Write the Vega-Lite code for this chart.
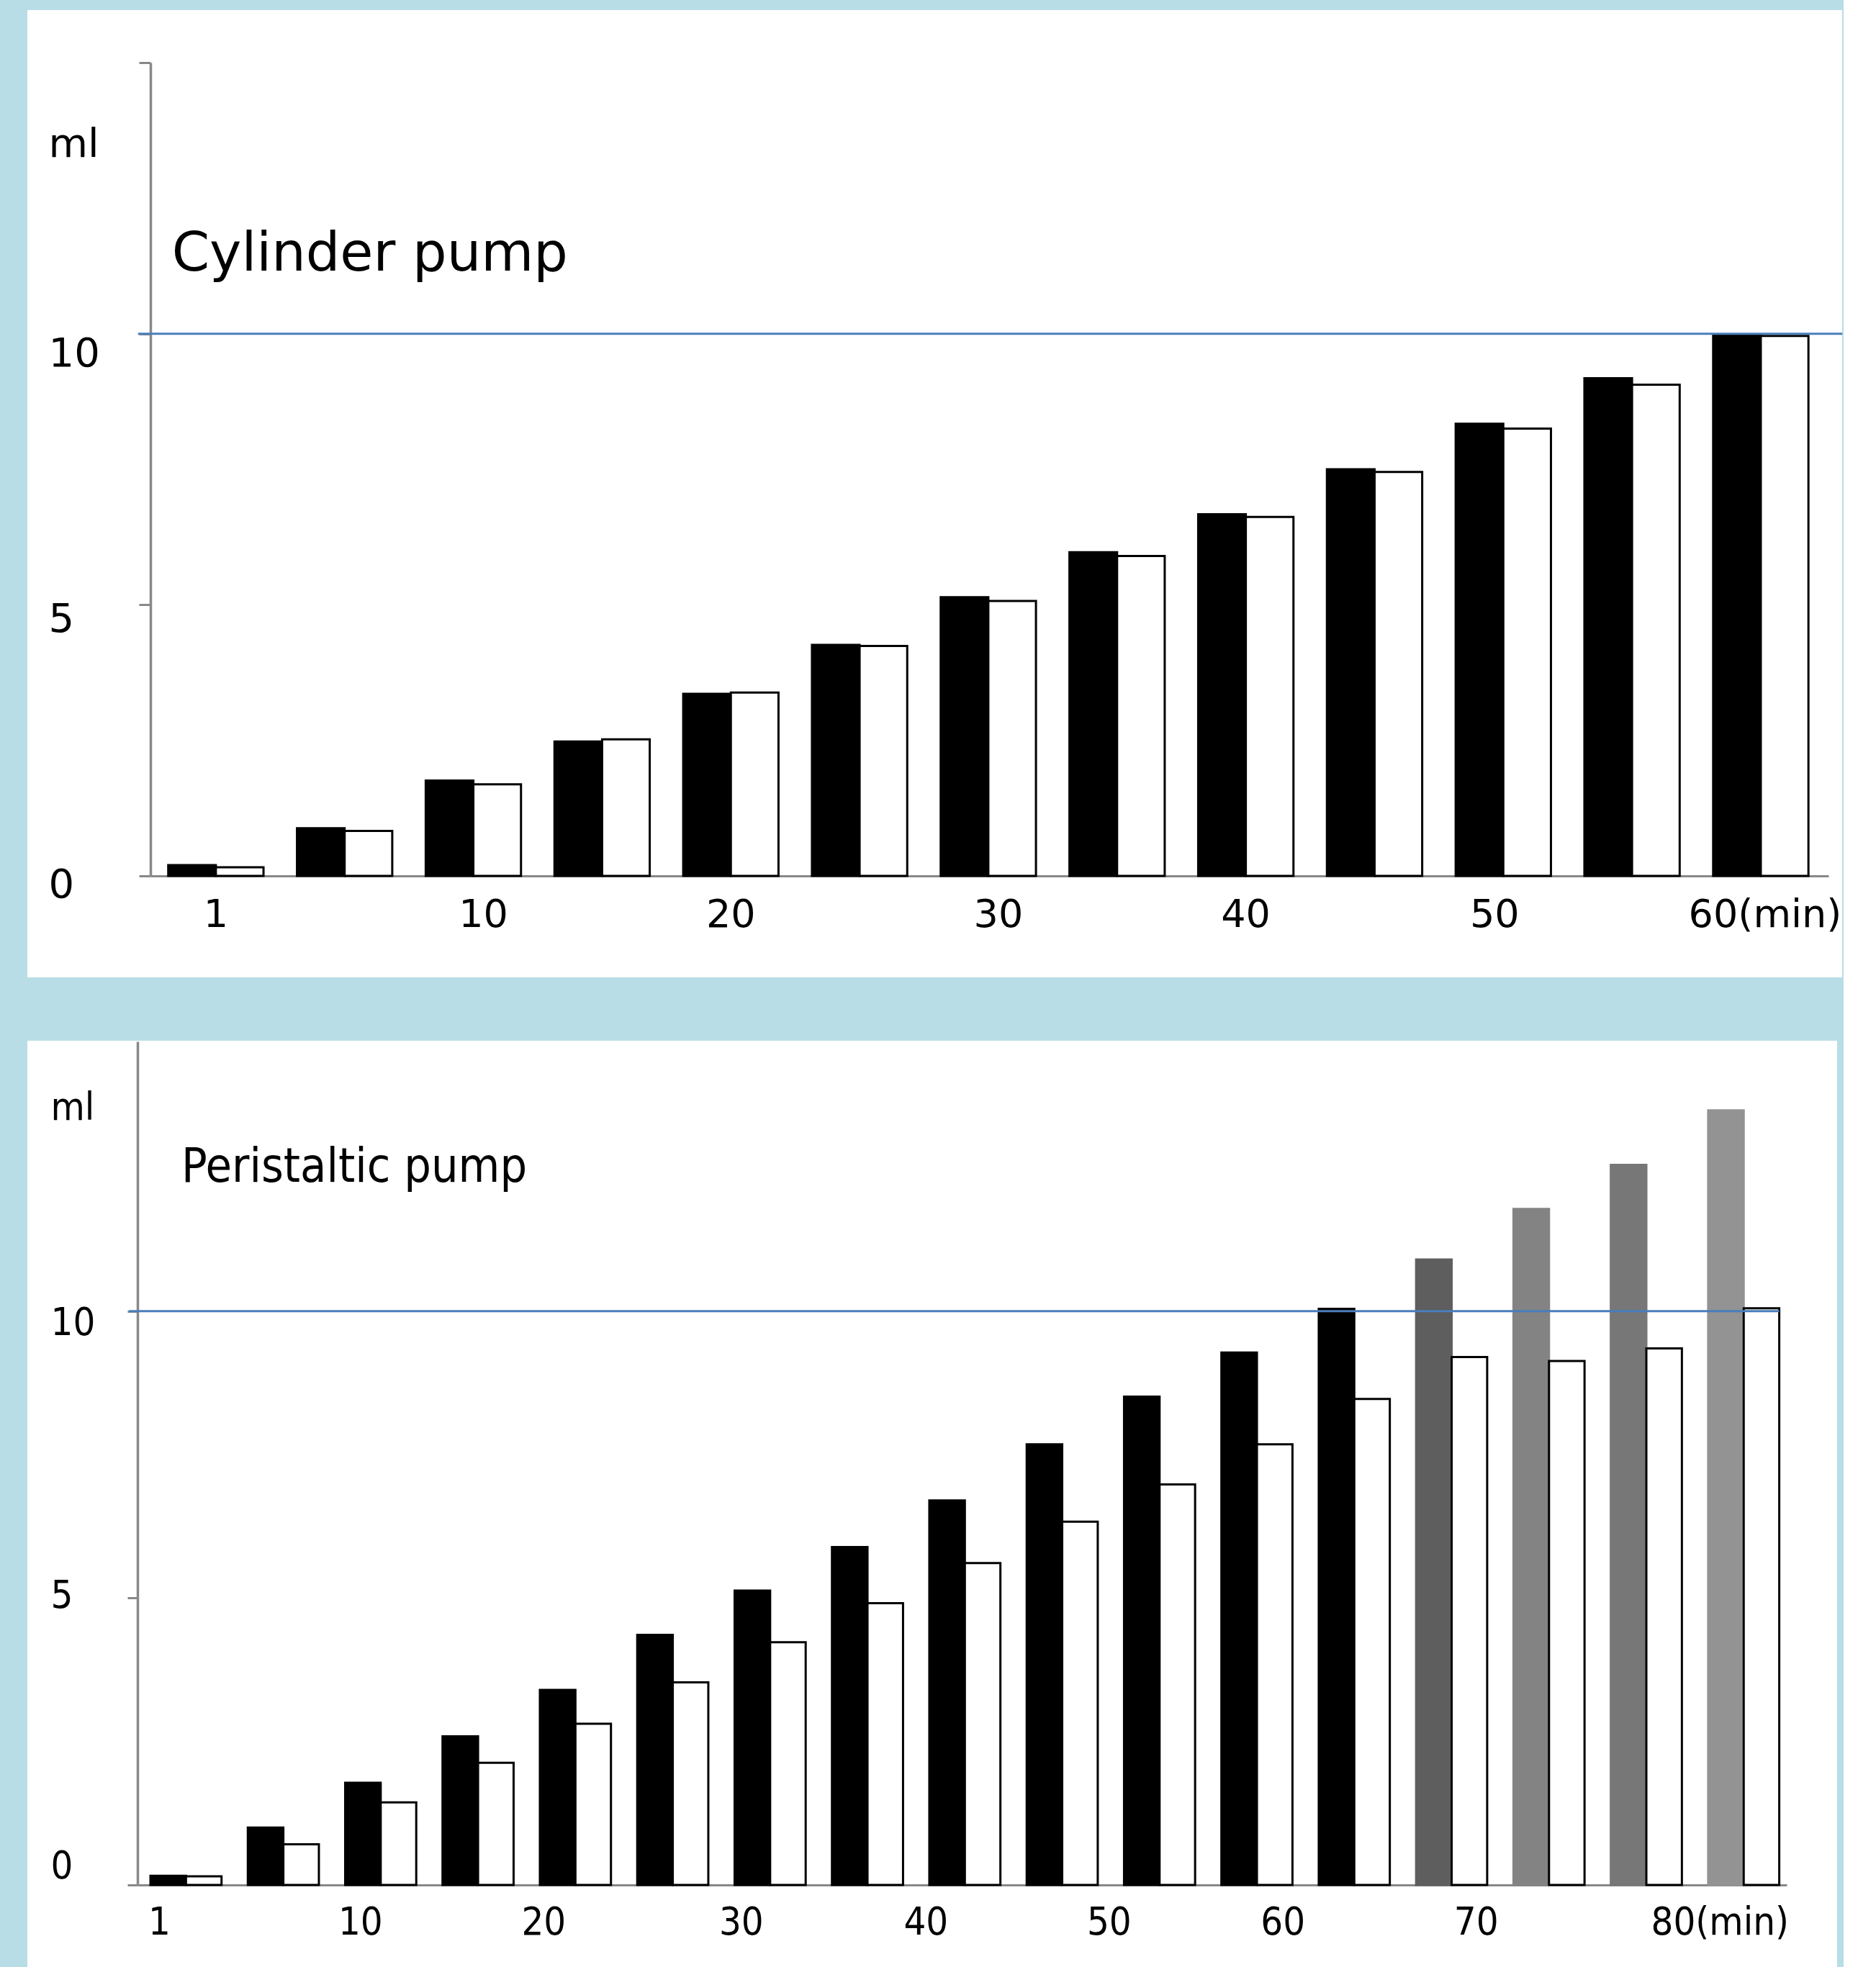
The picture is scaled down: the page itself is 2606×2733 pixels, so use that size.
{
  "$schema": "https://vega.github.io/schema/vega-lite/v6.json",
  "background": "#b8dde6",
  "padding": {"left": 38, "top": 14, "right": 0, "bottom": 0},
  "spacing": 88,
  "resolve": {"scale": {"color": "independent", "stroke": "independent", "xOffset": "independent"}},
  "config": {"view": {"fill": "#ffffff", "stroke": null}, "font": "DejaVu Sans"},
  "vconcat": [
    {
      "width": 2521,
      "height": 1344,
      "layer": [
        {
          "data": {"values": [
            {"t": 1, "s": "A", "v": 0.20}, {"t": 1, "s": "B", "v": 0.16},
            {"t": 5, "s": "A", "v": 0.88}, {"t": 5, "s": "B", "v": 0.83},
            {"t": 10, "s": "A", "v": 1.76}, {"t": 10, "s": "B", "v": 1.69},
            {"t": 15, "s": "A", "v": 2.48}, {"t": 15, "s": "B", "v": 2.52},
            {"t": 20, "s": "A", "v": 3.36}, {"t": 20, "s": "B", "v": 3.38},
            {"t": 25, "s": "A", "v": 4.26}, {"t": 25, "s": "B", "v": 4.24},
            {"t": 30, "s": "A", "v": 5.14}, {"t": 30, "s": "B", "v": 5.07},
            {"t": 35, "s": "A", "v": 5.97}, {"t": 35, "s": "B", "v": 5.90},
            {"t": 40, "s": "A", "v": 6.67}, {"t": 40, "s": "B", "v": 6.62},
            {"t": 45, "s": "A", "v": 7.50}, {"t": 45, "s": "B", "v": 7.45},
            {"t": 50, "s": "A", "v": 8.34}, {"t": 50, "s": "B", "v": 8.25},
            {"t": 55, "s": "A", "v": 9.18}, {"t": 55, "s": "B", "v": 9.06},
            {"t": 60, "s": "A", "v": 9.99}, {"t": 60, "s": "B", "v": 9.96}
          ]},
          "mark": {"type": "bar", "stroke": "#000000", "strokeWidth": 3},
          "encoding": {
            "x": {
              "field": "t", "type": "ordinal",
              "scale": {"range": [171, 2502], "paddingInner": 0.26, "paddingOuter": 0.147, "align": 0.47},
              "axis": {
                "title": null, "offset": -141, "ticks": false,
                "domainColor": "#888888", "domainWidth": 3,
                "labelAngle": 0, "labelFont": "DejaVu Sans", "labelFontSize": 54, "labelPadding": 27,
                "labelOffset": {"condition": [{"test": "datum.value == 10", "value": 14}, {"test": "datum.value == 30", "value": 14}, {"test": "datum.value == 50", "value": -12}, {"test": "datum.value == 60", "value": 6}], "value": 0},
                "labelColor": "#000000", "labelOverlap": false, "labelFlush": false, "labelLimit": 0,
                "labelExpr": "datum.value == 60 ? '60(min)' : ((datum.value == 1 || datum.value % 10 == 0) ? datum.label : '')"
              }
            },
            "xOffset": {"field": "s", "type": "nominal"},
            "y": {
              "field": "v", "type": "quantitative",
              "scale": {"domain": [0, 15], "range": [1203, 73], "nice": false},
              "axis": {
                "title": null, "offset": -171, "values": [0, 5, 10, 13.76, 15], "grid": false,
                "domainColor": "#888888", "domainWidth": 3.5,
                "tickColor": "#888888", "tickSize": 16, "tickWidth": 3,
                "tickOpacity": {"condition": {"test": "datum.value > 13 && datum.value < 14", "value": 0}, "value": 1},
                "labelAlign": "left", "labelBaseline": "middle", "labelPadding": 126,
                "labelOffset": {"condition": [{"test": "datum.value == 10", "value": 28}, {"test": "datum.value == 0", "value": 12}], "value": 20},
                "labelFont": "DejaVu Sans", "labelFontSize": 56, "labelColor": "#000000",
                "labelOverlap": false, "labelFlush": false, "labelLimit": 0,
                "labelExpr": "datum.value == 15 ? '' : (datum.value > 13 ? 'ml' : '' + datum.value)"
              }
            },
            "color": {"field": "s", "type": "nominal", "scale": {"domain": ["A", "B"], "range": ["#000000", "#ffffff"]}, "legend": null}
          }
        },
        {
          "data": {"values": [{"ml": 10}]},
          "mark": {"type": "rule", "color": "#4a7ebb", "strokeWidth": 3, "xOffset": -42, "x2Offset": 47},
          "encoding": {
            "x": {"datum": 1, "type": "ordinal", "bandPosition": 0},
            "x2": {"datum": 60, "bandPosition": 1},
            "y": {"field": "ml", "type": "quantitative"}
          }
        },
        {
          "data": {"values": [{"label": "Cylinder pump"}]},
          "mark": {"type": "text", "align": "left", "baseline": "alphabetic", "font": "DejaVu Sans", "fontSize": 75, "dx": 5, "color": "#000000"},
          "encoding": {
            "x": {"datum": 1, "type": "ordinal", "bandPosition": 0},
            "y": {"datum": 11.17, "type": "quantitative"},
            "text": {"field": "label"}
          }
        }
      ]
    },
    {
      "width": 2514,
      "height": 1287,
      "layer": [
        {
          "data": {"values": [
            {"t": 1, "s": "A", "k": "A", "v": 0.16}, {"t": 1, "s": "B", "k": "B", "v": 0.15},
            {"t": 5, "s": "A", "k": "A", "v": 1.00}, {"t": 5, "s": "B", "k": "B", "v": 0.71},
            {"t": 10, "s": "A", "k": "A", "v": 1.78}, {"t": 10, "s": "B", "k": "B", "v": 1.44},
            {"t": 15, "s": "A", "k": "A", "v": 2.59}, {"t": 15, "s": "B", "k": "B", "v": 2.13},
            {"t": 20, "s": "A", "k": "A", "v": 3.40}, {"t": 20, "s": "B", "k": "B", "v": 2.81},
            {"t": 25, "s": "A", "k": "A", "v": 4.36}, {"t": 25, "s": "B", "k": "B", "v": 3.53},
            {"t": 30, "s": "A", "k": "A", "v": 5.13}, {"t": 30, "s": "B", "k": "B", "v": 4.23},
            {"t": 35, "s": "A", "k": "A", "v": 5.89}, {"t": 35, "s": "B", "k": "B", "v": 4.91},
            {"t": 40, "s": "A", "k": "A", "v": 6.70}, {"t": 40, "s": "B", "k": "B", "v": 5.61},
            {"t": 45, "s": "A", "k": "A", "v": 7.68}, {"t": 45, "s": "B", "k": "B", "v": 6.33},
            {"t": 50, "s": "A", "k": "A", "v": 8.51}, {"t": 50, "s": "B", "k": "B", "v": 6.98},
            {"t": 55, "s": "A", "k": "A", "v": 9.28}, {"t": 55, "s": "B", "k": "B", "v": 7.68},
            {"t": 60, "s": "A", "k": "A", "v": 10.04}, {"t": 60, "s": "B", "k": "B", "v": 8.47},
            {"t": 65, "s": "A", "k": "C1", "v": 10.90}, {"t": 65, "s": "B", "k": "B", "v": 9.20},
            {"t": 70, "s": "A", "k": "C2", "v": 11.78}, {"t": 70, "s": "B", "k": "B", "v": 9.13},
            {"t": 75, "s": "A", "k": "C3", "v": 12.55}, {"t": 75, "s": "B", "k": "B", "v": 9.35},
            {"t": 80, "s": "A", "k": "C4", "v": 13.50}, {"t": 80, "s": "B", "k": "B", "v": 10.05}
          ]},
          "mark": {"type": "bar", "strokeWidth": 3},
          "encoding": {
            "x": {
              "field": "t", "type": "ordinal",
              "scale": {"range": [153, 2444], "paddingInner": 0.27, "paddingOuter": 0.105, "align": 0.634},
              "axis": {
                "title": null, "offset": -114, "ticks": false,
                "domainColor": "#888888", "domainWidth": 3,
                "labelAngle": 0, "labelFont": "DejaVu Sans Condensed", "labelFontSize": 54, "labelPadding": 25,
                "labelOffset": {"condition": [
                  {"test": "datum.value == 1", "value": -37},
                  {"test": "datum.value == 10", "value": -28},
                  {"test": "datum.value == 20", "value": -44},
                  {"test": "datum.value == 30", "value": -40},
                  {"test": "datum.value == 40", "value": -54},
                  {"test": "datum.value == 50", "value": -70},
                  {"test": "datum.value == 60", "value": -99},
                  {"test": "datum.value == 70", "value": -101}
                ], "value": -33},
                "labelColor": "#000000", "labelOverlap": false, "labelFlush": false, "labelLimit": 0,
                "labelExpr": "datum.value == 80 ? '80(min)' : ((datum.value == 1 || datum.value % 10 == 0) ? datum.label : '')"
              }
            },
            "xOffset": {"field": "s", "type": "nominal"},
            "y": {
              "field": "v", "type": "quantitative",
              "scale": {"domain": [0, 14.7], "range": [1173, 1], "nice": false},
              "axis": {
                "title": null, "offset": -153, "values": [0, 5, 10, 13.5], "grid": false,
                "domainColor": "#888888", "domainWidth": 3.5,
                "tickColor": "#888888", "tickSize": 14, "tickWidth": 3,
                "tickOpacity": {"condition": {"test": "datum.value > 13", "value": 0}, "value": 1},
                "labelAlign": "left", "labelBaseline": "middle", "labelPadding": 107,
                "labelOffset": {"condition": [{"test": "datum.value == 10", "value": 17}, {"test": "datum.value == 0", "value": -26}], "value": -3},
                "labelFont": "DejaVu Sans Condensed", "labelFontSize": 54, "labelColor": "#000000",
                "labelOverlap": false, "labelFlush": false, "labelLimit": 0,
                "labelExpr": "datum.value > 13 ? 'ml' : '' + datum.value"
              }
            },
            "color": {"field": "k", "type": "nominal", "scale": {"domain": ["A", "B", "C1", "C2", "C3", "C4"], "range": ["#000000", "#ffffff", "#5e5e5e", "#838383", "#777777", "#939393"]}, "legend": null},
            "stroke": {"field": "k", "type": "nominal", "scale": {"domain": ["A", "B", "C1", "C2", "C3", "C4"], "range": ["#000000", "#000000", "#5e5e5e", "#838383", "#777777", "#939393"]}, "legend": null}
          }
        },
        {
          "data": {"values": [{"ml": 10}]},
          "mark": {"type": "rule", "color": "#4a7ebb", "strokeWidth": 3, "xOffset": -30},
          "encoding": {
            "x": {"datum": 1, "type": "ordinal", "bandPosition": 0},
            "x2": {"datum": 80, "bandPosition": 1},
            "y": {"field": "ml", "type": "quantitative"}
          }
        },
        {
          "data": {"values": [{"label": "Peristaltic pump"}]},
          "mark": {"type": "text", "align": "left", "baseline": "alphabetic", "font": "DejaVu Sans Condensed", "fontSize": 66, "dx": 43, "color": "#000000"},
          "encoding": {
            "x": {"datum": 1, "type": "ordinal", "bandPosition": 0},
            "y": {"datum": 12.26, "type": "quantitative"},
            "text": {"field": "label"}
          }
        }
      ]
    }
  ]
}
